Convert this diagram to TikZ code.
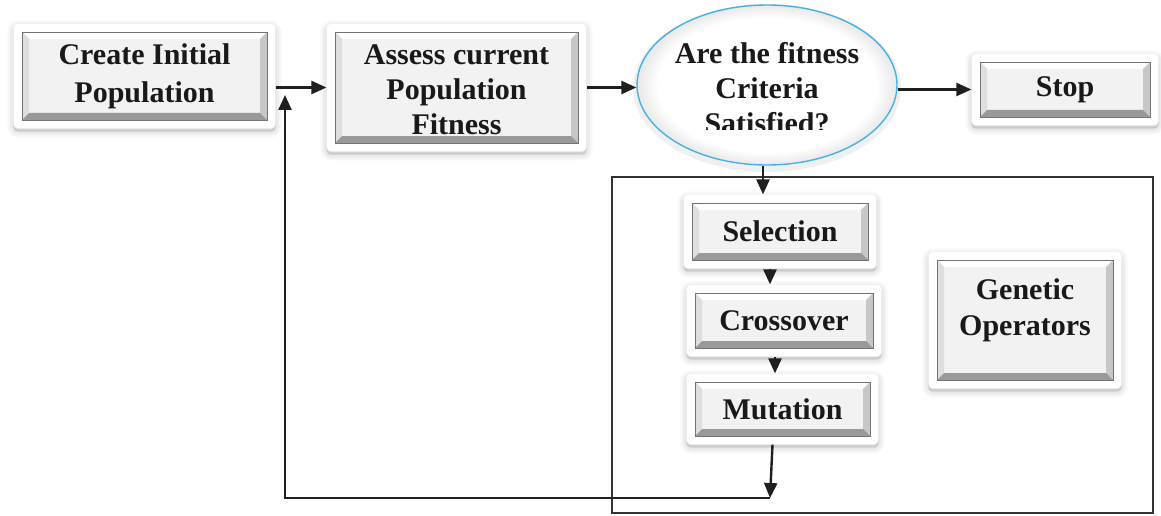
\documentclass[tikz,border=0pt]{standalone}
\usepackage{fontspec}
\setmainfont{Liberation Serif}
\usetikzlibrary{shadows,backgrounds,arrows.meta,shapes.geometric,fit,calc}
\definecolor{ellblue}{RGB}{70,178,228}
\pgfdeclareradialshading{ellglow}{\pgfpoint{0bp}{0bp}}{color(0bp)=(white); color(21bp)=(white); color(25bp)=(black!9); color(50bp)=(black!9)}
\begin{document}
\begin{tikzpicture}[x=1pt,y=-1pt,
  txt/.style={font=\fontsize{30}{35}\selectfont\bfseries, align=center, text=black!90, inner sep=0pt},
  bev/.style={rectangle, fill=black!5, draw=black!55, line width=0.7pt, inner sep=0pt,
    font=\fontsize{30}{38}\selectfont\bfseries, align=center, text=black!90,
    path picture={
      \fill[white] (path picture bounding box.north west) -- (path picture bounding box.north east)
        -- ($(path picture bounding box.north east)+(-7,7)$) -- ($(path picture bounding box.north west)+(7,7)$) -- cycle;
      \fill[black!13] (path picture bounding box.north west) -- (path picture bounding box.south west)
        -- ($(path picture bounding box.south west)+(7,-7)$) -- ($(path picture bounding box.north west)+(7,7)$) -- cycle;
      \fill[black!22] (path picture bounding box.north east) -- (path picture bounding box.south east)
        -- ($(path picture bounding box.south east)+(-7,-7)$) -- ($(path picture bounding box.north east)+(-7,7)$) -- cycle;
      \fill[black!40] (path picture bounding box.south west) -- (path picture bounding box.south east)
        -- ($(path picture bounding box.south east)+(-7,-7)$) -- ($(path picture bounding box.south west)+(7,-7)$) -- cycle;
    }},
  outerbox/.style={rectangle, rounded corners=4pt, fill=white, draw=black!6, line width=0.5pt, inner sep=8pt,
    general shadow={fill=black, draw=black, line width=12pt, line join=round, opacity=0.03, shadow yshift=-3pt},
    general shadow={fill=black, draw=black, line width=7pt, line join=round, opacity=0.04, shadow yshift=-3pt},
    general shadow={fill=black, draw=black, line width=2pt, line join=round, opacity=0.05, shadow yshift=-3pt}},
  arr/.style={-{Triangle[length=15pt,width=13pt]}, line width=2.4pt, draw=black!88},
  ln/.style={line width=2.4pt, draw=black!88}
]
\useasboundingbox (0,0) rectangle (1161,516);

% container of the genetic operators
\node[draw=black!80, line width=1.6pt, minimum width=541, minimum height=336, inner sep=0pt] (ops) at (882.5,345) {};

% inner bevelled boxes
\node[bev, minimum width=245, minimum height=88] (init) at (144.5,76) {Create Initial\\Population};
\node[bev, minimum width=243, minimum height=111] (assess) at (456.5,87.5) {};
\node[bev, minimum width=170, minimum height=55] (stop) at (1065,89.5) {Stop};
\node[bev, minimum width=176, minimum height=57] (sel) at (780,231.5) {Selection};
\node[bev, minimum width=178, minimum height=55] (cross) at (784,320.5) {Crossover};
\node[bev, minimum width=175, minimum height=54] (mut) at (782.5,409) {Mutation};
\node[bev, minimum width=176, minimum height=120] (gen) at (1025,320) {};
\node[txt, font=\fontsize{30}{36}\selectfont\bfseries] (gentext) at (1025,310) {Genetic\\Operators};

% clipped text of the assess box
\begin{scope}
  \clip (assess.north west) rectangle ($(assess.south east)+(0,-9)$);
  \node[txt] (assesstext) at (456.5,90) {Assess current\\Population\\Fitness};
\end{scope}

% decision ellipse
\node[ellipse, minimum width=260, minimum height=160, inner sep=0pt, draw=ellblue, line width=1.4pt, shading=ellglow] (crit) at (767,85) {};
\begin{scope}
  \clip (650,20) rectangle (885,130);
  \node[txt] (crittext) at (767,88) {Are the fitness\\Criteria\\Satisfied?};
\end{scope}

% outer white raised frames
\begin{scope}[on background layer]
  \node[outerbox, fit=(init)] (init-o) {};
  \node[outerbox, fit=(assess)] (assess-o) {};
  \node[outerbox, fit=(stop)] (stop-o) {};
  \node[outerbox, fit=(sel)] (sel-o) {};
  \node[outerbox, fit=(cross)] (cross-o) {};
  \node[outerbox, fit=(mut)] (mut-o) {};
  \node[outerbox, fit=(gen)] (gen-o) {};
  \fill[black, opacity=0.06] ($(crit.center)+(0,3)$) ellipse [x radius=134, y radius=84];
\end{scope}

% connectors
\draw[arr] (init-o.east |- assess-o.west) -- (assess-o.west);
\draw[arr] (assess-o.east) -- (crit.west |- assess-o.east);
\draw[arr] (crit.east |- stop-o.west) -- (stop-o.west);
\draw[arr] ([xshift=-4]crit.south) -- ([xshift=-4]crit.south |- sel-o.north);
\draw[arr] ([xshift=-10]sel-o.south) -- ([xshift=-10]sel-o.south |- cross-o.north);
\draw[arr] ([xshift=-9]cross-o.south) -- ([xshift=-9]cross-o.south |- mut-o.north);

\coordinate (loopc) at (770,498);
\coordinate (loopl) at (285,498);
\coordinate (loopt) at (285,95);
\draw[arr] (loopc) -- (loopl) -- (loopt);
\draw[arr] ([xshift=-10]mut-o.south) -- (loopc);
\end{tikzpicture}
\end{document}
